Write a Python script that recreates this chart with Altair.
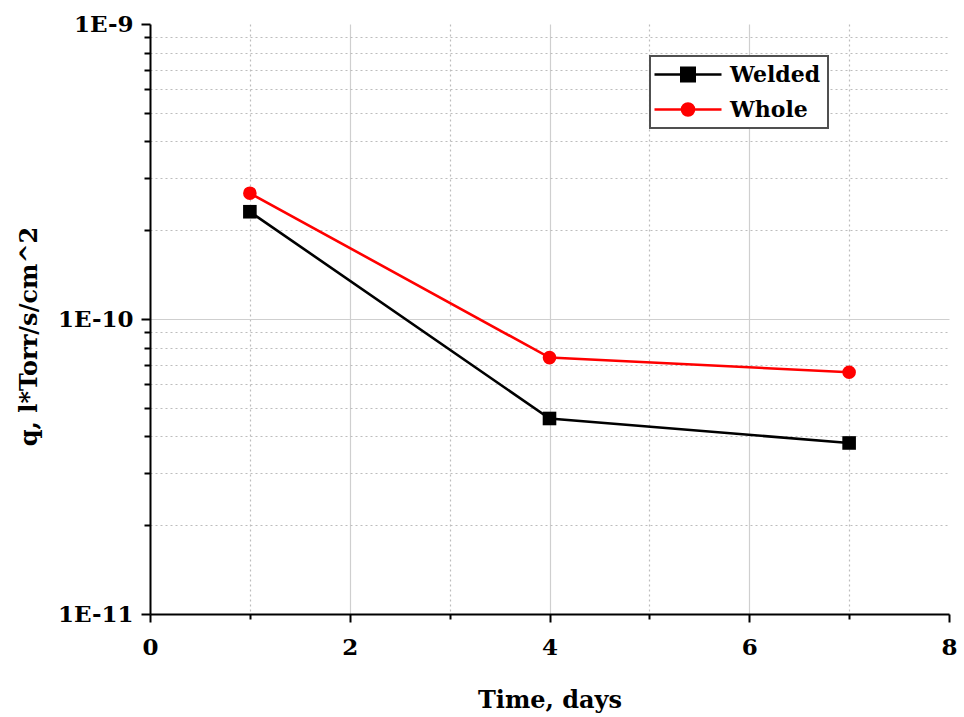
import altair as alt
import pandas as pd

# ---- data ----
days = [1, 4, 7]
welded = [2.31e-10, 4.6e-11, 3.8e-11]
whole = [2.67e-10, 7.4e-11, 6.6e-11]
series_names = ["Welded", "Whole"]
series_colors = ["black", "red"]

x_ticks = [0, 1, 2, 3, 4, 5, 6, 7, 8]
y_ticks = [1e-11, 2e-11, 3e-11, 4e-11, 5e-11, 6e-11, 7e-11, 8e-11, 9e-11,
           1e-10, 2e-10, 3e-10, 4e-10, 5e-10, 6e-10, 7e-10, 8e-10, 9e-10, 1e-9]
y_major = [1e-11, 1e-10, 1e-9]
y_major_labels = ["1E-11", "1E-10", "1E-9"]

df = pd.DataFrame({
    "day": days + days,
    "q": welded + whole,
    "series": [series_names[0]] * len(days) + [series_names[1]] * len(days),
})

FONT = "DejaVu Serif"
maj_list = "[" + ",".join(repr(v) for v in y_major) + "]"
lab_list = "[" + ",".join("'" + s + "'" for s in y_major_labels) + "]"
y_is_major = f"indexof({maj_list}, datum.value) >= 0"
x_is_major = "datum.value % 2 == 0"

y_axis = alt.Axis(
    values=y_ticks,
    labelExpr=f"{y_is_major} ? {lab_list}[indexof({maj_list}, datum.value)] : ''",
    grid=True,
    gridColor={"condition": {"test": y_is_major, "value": "#cfcfcf"}, "value": "#bdbdbd"},
    gridDash={"condition": {"test": y_is_major, "value": []}, "value": [2, 3]},
    gridOpacity={"condition": {"test": "datum.value > 9.9e-10", "value": 0}, "value": 1},
    gridWidth=1.2,
    tickSize={"condition": {"test": y_is_major, "value": 9}, "value": 6},
    tickWidth=2, tickColor="black",
    domainColor="black", domainWidth=2,
    labelFont=FONT, labelFontWeight="bold", labelFontSize=23, labelColor="black",
    labelPadding=8,
    title="q, l*Torr/s/cm^2",
    titleFont=FONT, titleFontWeight="bold", titleFontSize=24, titleColor="black",
    titleX=-121, titleY=312, titleAngle=270, titleBaseline="middle", titleAlign="center",
)

x_axis = alt.Axis(
    values=x_ticks,
    labelExpr=f"{x_is_major} ? datum.label : ''",
    grid=True,
    gridColor={"condition": {"test": x_is_major, "value": "#cfcfcf"}, "value": "#bdbdbd"},
    gridDash={"condition": {"test": x_is_major, "value": []}, "value": [2, 3]},
    gridOpacity={"condition": {"test": "datum.value == 0 || datum.value == 8", "value": 0}, "value": 1},
    gridWidth=1.2,
    tickSize={"condition": {"test": x_is_major, "value": 8}, "value": 5},
    tickWidth=2, tickColor="black",
    domainColor="black", domainWidth=2,
    labelFont=FONT, labelFontWeight="bold", labelFontSize=23, labelColor="black",
    labelPadding=14, labelFlush=False,
    title="Time, days",
    titleFont=FONT, titleFontWeight="bold", titleFontSize=24, titleColor="black",
    titleY=93, titleBaseline="alphabetic",
)

x_enc = alt.X("day:Q", scale=alt.Scale(domain=[0, 8], nice=False, zero=False), axis=x_axis)
y_enc = alt.Y("q:Q", scale=alt.Scale(type="log", domain=[1e-11, 1e-9], nice=False), axis=y_axis)
color_scale = alt.Scale(domain=series_names, range=series_colors)

base = alt.Chart(df).encode(x=x_enc, y=y_enc)

line = base.mark_line(strokeWidth=2.6).encode(
    color=alt.Color("series:N", scale=color_scale, legend=None)
)

points = base.mark_point(filled=True, opacity=1, size=185).encode(
    color=alt.Color("series:N", scale=color_scale, legend=None),
    shape=alt.Shape("series:N", scale=alt.Scale(domain=series_names, range=["square", "circle"]), legend=None),
)

# legend symbols: a line segment with its marker; unit = 10 px (symbolSize 400)
sq_path = "M-1.4,0H5.3M1.28,-0.67H2.62V0.67H1.28Z"
ci_path = "M2.55,0A0.6,0.6,0,1,1,1.35,0A0.6,0.6,0,1,1,2.55,0Z M-1.4,0H5.3"

names_list = "[" + ",".join("'" + s + "'" for s in series_names) + "]"
colors_list = "[" + ",".join("'" + s + "'" for s in series_colors) + "]"
sym_color = {"expr": f"{colors_list}[indexof({names_list}, datum.value)]"}

leg = alt.Legend(
    title=None, orient="none", legendX=500, legendY=32,
    symbolSize=400, symbolStrokeWidth=2.6, symbolOpacity=1,
    symbolFillColor=sym_color, symbolStrokeColor=sym_color,
    labelFont=FONT, labelFontSize=22, labelFontWeight="bold", labelColor="black",
    labelOffset=50, rowPadding=11, padding=7,
    strokeColor="#505050", fillColor="white",
)

legend_layer = base.mark_point(filled=True, opacity=0).encode(
    color=alt.Color("series:N", scale=color_scale, legend=None),
    shape=alt.Shape("series:N", scale=alt.Scale(domain=series_names, range=[sq_path, ci_path]), legend=leg),
)

chart = alt.layer(line, points, legend_layer).resolve_scale(
    shape="independent"
).properties(
    width=799, height=590,
    autosize=alt.AutoSizeParams(type="none"),
    padding={"left": 150, "top": 24, "right": 15, "bottom": 103},
    background="white",
).configure_view(stroke=None).configure_legend(strokeWidth=2)

chart.save("out.html", embed_options={"renderer": "svg", "actions": False})
